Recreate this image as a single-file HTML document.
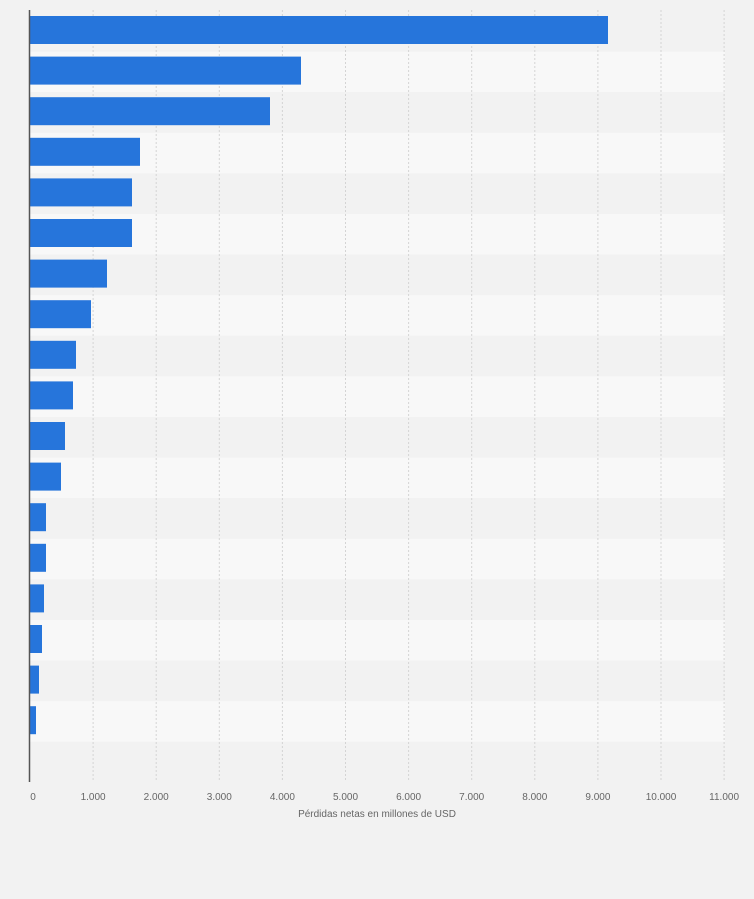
<!DOCTYPE html>
<html><head><meta charset="utf-8"><style>
html,body{margin:0;padding:0;background:#f2f2f2;}
svg{display:block;font-family:"Liberation Sans",sans-serif;}
</style></head><body>
<svg width="754" height="899" viewBox="0 0 754 899" xmlns="http://www.w3.org/2000/svg">
<rect width="754" height="899" fill="#f2f2f2"/>
<g id="bands"></g>
<g id="grid"></g>
<g id="bars"></g>
<line x1="29.5" y1="10" x2="29.5" y2="782" stroke="#555" stroke-width="1.5"/>
<g id="ticks" font-size="10" fill="#666" text-anchor="middle"></g>
<text x="377" y="817" font-size="10" fill="#666" text-anchor="middle">Pérdidas netas en millones de USD</text>
</svg>
<script>
var ns="http://www.w3.org/2000/svg";
function el(t,a,p){var e=document.createElementNS(ns,t);for(var k in a)e.setAttribute(k,a[k]);document.getElementById(p).appendChild(e);return e;}
var top0=11,bh=40.6;
for(var i=0;i<19;i++){el("rect",{x:30,y:top0+i*bh,width:695,height:bh,fill:i%2?"#f8f8f8":"#f2f2f2"},"bands");}
var labels=["0","1.000","2.000","3.000","4.000","5.000","6.000","7.000","8.000","9.000","10.000","11.000"];
for(var k=0;k<12;k++){var x=30+63.1*k;
 if(k>0)el("line",{x1:x,y1:10,x2:x,y2:782,stroke:"#d4d4d4","stroke-width":1,"stroke-dasharray":"2,2"},"grid");
 var t=el("text",{x:x+(k==0?3:0),y:800},"ticks");t.textContent=labels[k];}
var r=[608,301,270,140,132,132,107,91,76,73,65,61,46,46,44,42,39,36];
for(var i=0;i<r.length;i++){el("rect",{x:30,y:top0+i*bh+5,width:r[i]-30,height:28,fill:"#2675db"},"bars");}
</script>
</body></html>
